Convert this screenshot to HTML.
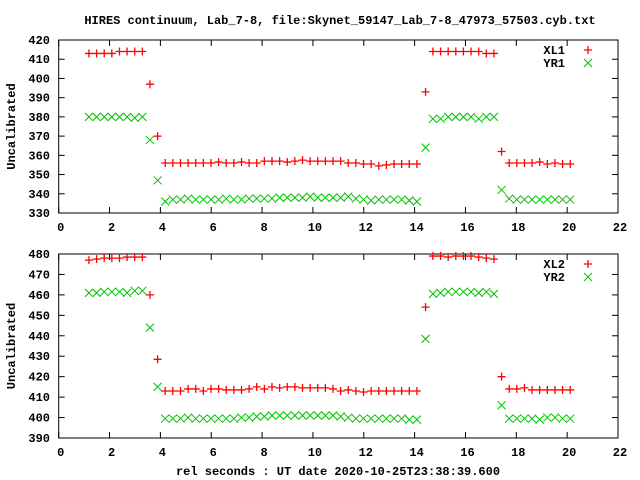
<!DOCTYPE html>
<html><head><meta charset="utf-8"><style>
body{margin:0;background:#fff}
svg{display:block}
text{font-family:"Liberation Mono",monospace;font-weight:bold;font-size:12px;fill:#000}
</style></head><body>
<svg id="chart" width="640" height="480" xmlns="http://www.w3.org/2000/svg">
<text x="340" y="24" text-anchor="middle">HIRES continuum, Lab_7-8, file:Skynet_59147_Lab_7-8_47973_57503.cyb.txt</text>
<text x="338" y="475" text-anchor="middle">rel seconds : UT date 2020-10-25T23:38:39.600</text>
</svg>
<script>
const times=[1.19,1.49,1.79,2.09,2.39,2.69,2.99,3.29,3.59,3.89,
4.19,4.49,4.79,5.09,5.39,5.69,5.99,6.29,6.59,6.89,7.19,7.49,7.79,8.09,8.39,8.69,8.99,9.29,9.59,9.89,10.19,10.49,10.79,11.09,11.39,11.69,11.99,12.29,12.59,12.89,13.19,13.49,13.79,14.09,
14.43,14.72,15.02,15.32,15.62,15.92,16.22,16.52,16.82,17.12,17.42,
17.72,18.02,18.32,18.62,18.92,19.22,19.52,19.82,20.12];
const xl1=[413,413,413,413,414,414,414,414,397,370,
356,356,356,356,356,356,356,356.5,356,356,356.5,356,356,357,357,357,356.5,357,357.5,357,357,357,357,357,356,356,355.5,355.5,354.5,355,355.5,355.5,355.5,355.5,
393,414,414,414,414,414,414,414,413,413,362,
356,356,356,356,356.5,355.5,356,355.5,355.5];
const yr1=[380,380,380,380,380,380,379.5,380,368,347,
336,337,337,337.5,337,337,337,337,337.5,337,337,337.5,337.5,337.5,337.5,338,338,338,338,338.5,338,338,338,338,338.5,337.5,337,336.5,337,337,337,337,336.5,336,
364,379,379,380,380,380,380,379,380,380,342,
337.5,337,337,337,337,337,337,337,337];
const xl2=[477,477.5,478,478,478,478.5,478.5,478.5,460,428.5,
413,413,413,414,414,413,414,414,413.5,413.5,413.5,414,415,414,415,414.5,415,415,414.5,414.5,414.5,414.5,414,413,413.5,413,412.5,413,413,413,413,413,413,413,
454,479,479,478.5,479,479,479,478.5,478,477.5,420,
414,414,414.5,413.5,413.5,413.5,413.5,413.5,413.5];
const yr2=[461,461,461.5,461.5,461.5,461,462,462,444,415,
399.5,399.5,399.5,400,399.5,399.5,399.5,399.5,399.5,399.5,400,400,400.5,400.5,401,401,401,401,401,401,401,401,401,400.5,400,399.5,399.5,399.5,399.5,399.5,399.5,399.5,399,399,
438.5,460.5,461,461.5,461.5,461.5,461.5,461,461.5,460.5,406,
399.5,399.5,399.5,399.5,399,400,400,399.5,399.5];
const xTicks=[0,2,4,6,8,10,12,14,16,18,20,22];
const yTicksTop=[330,340,350,360,370,380,390,400,410,420];
const yTicksBot=[390,400,410,420,430,440,450,460,470,480];

const NS="http://www.w3.org/2000/svg";
const svg=document.getElementById('chart');
function mk(tag,attrs,parent){const e=document.createElementNS(NS,tag);for(const k in attrs)e.setAttribute(k,attrs[k]);(parent||svg).appendChild(e);return e;}

function panel(name,top,bottom,ymin,ymax,yTicks,s1,s2,l1,l2){
  const L=58.7,R=618;
  const g=mk('g',{});
  
  
  const xs=v=>L+(v-0)/(22-0)*(R-L);
  const ys=v=>bottom-(v-ymin)/(ymax-ymin)*(bottom-top);
  const fr=mk('rect',{x:L,y:top,width:R-L,height:bottom-top,fill:'none',stroke:'#000','stroke-width':1},g);
  
  
  xTicks.forEach(t=>{
    const x=xs(t);
    mk('line',{x1:x,y1:bottom,x2:x,y2:bottom-6,stroke:'#000'},g);
    mk('line',{x1:x,y1:top,x2:x,y2:top+6,stroke:'#000'},g);
    const tx=mk('text',{x:x+2,y:bottom+18,'text-anchor':'middle'},g);
    tx.textContent=t;
    
    
  });
  yTicks.forEach(t=>{
    const y=ys(t);
    mk('line',{x1:L,y1:y,x2:L+6,y2:y,stroke:'#000'},g);
    mk('line',{x1:R,y1:y,x2:R-6,y2:y,stroke:'#000'},g);
    const tx=mk('text',{x:50,y:y+4,'text-anchor':'end'},g);
    tx.textContent=t;
    
    
  });
  const yl=mk('text',{x:0,y:0,'text-anchor':'middle',transform:`translate(15,${(top+bottom)/2}) rotate(-90)`},g);
  yl.textContent='Uncalibrated';
  
  
  const plus=(x,y,p)=>{mk('path',{d:`M${x-4},${y}H${x+4}M${x},${y-4}V${y+4}`,stroke:'#ff0000','stroke-width':1.3,fill:'none'},p);};
  const cross=(x,y,p)=>{mk('path',{d:`M${x-4},${y-4}L${x+4},${y+4}M${x-4},${y+4}L${x+4},${y-4}`,stroke:'#00c000','stroke-width':1,fill:'none'},p);};
  const g1=mk('g',{},g);
  
  
  s1.forEach((v,i)=>plus(xs(times[i]),ys(v),g1));
  const g2=mk('g',{},g);
  
  
  s2.forEach((v,i)=>cross(xs(times[i]),ys(v),g2));
  [[l1,plus,0],[l2,cross,13]].forEach(([lab,fn,dy])=>{
    const lg=mk('g',{},g);
    
    
    const t=mk('text',{x:565,y:top+14+dy,'text-anchor':'end'},lg);
    t.textContent=lab;
    fn(588,top+10+dy,lg);
  });
}
panel('top-panel',40,213,330,420,yTicksTop,xl1,yr1,'XL1','YR1');
panel('bottom-panel',254,438,390,480,yTicksBot,xl2,yr2,'XL2','YR2');
</script>
</body></html>
